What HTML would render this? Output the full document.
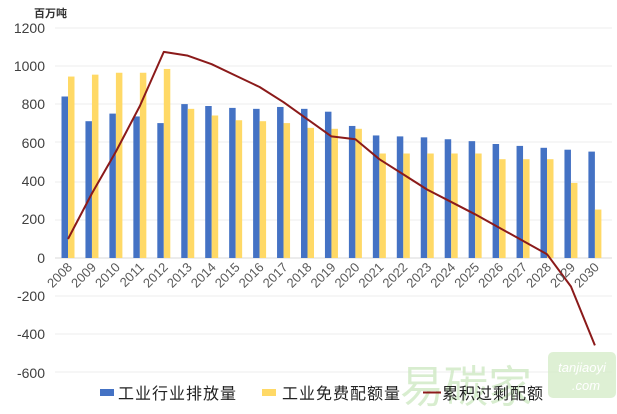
<!DOCTYPE html>
<html><head><meta charset="utf-8"><style>
html,body{margin:0;padding:0;background:#fff;}
svg{display:block;font-family:"Liberation Sans","Noto Sans CJK SC",sans-serif;}
</style></head><body>
<svg width="617" height="414" viewBox="0 0 617 414" xmlns="http://www.w3.org/2000/svg">
<rect width="617" height="414" fill="#fff"/>
<g stroke="#ececec" stroke-width="1">
<line x1="55" x2="612" y1="28" y2="28"/>
<line x1="55" x2="612" y1="66" y2="66"/>
<line x1="55" x2="612" y1="104" y2="104"/>
<line x1="55" x2="612" y1="142" y2="142"/>
<line x1="55" x2="612" y1="182" y2="182"/>
<line x1="55" x2="612" y1="220" y2="220"/>
<line x1="55" x2="612" y1="296" y2="296"/>
<line x1="55" x2="612" y1="334" y2="334"/>
<line x1="55" x2="612" y1="372" y2="372"/>
</g>
<line x1="55" x2="612" y1="258" y2="258" stroke="#d9d9d9"/>
<g font-size="14" fill="#404040" text-anchor="end">
<text x="45" y="33">1200</text><text x="45" y="71">1000</text><text x="45" y="109">800</text>
<text x="45" y="148">600</text><text x="45" y="186">400</text><text x="45" y="224">200</text>
<text x="45" y="263">0</text><text x="45" y="301">-200</text><text x="45" y="339">-400</text>
<text x="45" y="378">-600</text>
</g>
<text x="34" y="17" font-size="11" font-weight="bold" fill="#333">百万吨</text>
<g fill="#4472c4">
<rect x="61.5" y="96.5" width="6.5" height="161.5"/>
<rect x="85.45" y="121.2" width="6.5" height="136.8"/>
<rect x="109.4" y="113.6" width="6.5" height="144.4"/>
<rect x="133.35" y="116.45" width="6.5" height="141.55"/>
<rect x="157.3" y="123.1" width="6.5" height="134.9"/>
<rect x="181.25" y="104.1" width="6.5" height="153.9"/>
<rect x="205.2" y="106" width="6.5" height="152"/>
<rect x="229.15" y="107.9" width="6.5" height="150.1"/>
<rect x="253.1" y="108.85" width="6.5" height="149.15"/>
<rect x="277.05" y="106.95" width="6.5" height="151.05"/>
<rect x="301" y="108.85" width="6.5" height="149.15"/>
<rect x="324.95" y="111.7" width="6.5" height="146.3"/>
<rect x="348.9" y="125.95" width="6.5" height="132.05"/>
<rect x="372.85" y="135.45" width="6.5" height="122.55"/>
<rect x="396.8" y="136.4" width="6.5" height="121.6"/>
<rect x="420.75" y="137.35" width="6.5" height="120.65"/>
<rect x="444.7" y="139.25" width="6.5" height="118.75"/>
<rect x="468.65" y="141.15" width="6.5" height="116.85"/>
<rect x="492.6" y="144" width="6.5" height="114"/>
<rect x="516.55" y="145.9" width="6.5" height="112.1"/>
<rect x="540.5" y="147.8" width="6.5" height="110.2"/>
<rect x="564.45" y="149.7" width="6.5" height="108.3"/>
<rect x="588.4" y="151.6" width="6.5" height="106.4"/>
</g>
<g fill="#ffd966">
<rect x="68" y="76.55" width="6.5" height="181.45"/>
<rect x="91.95" y="74.65" width="6.5" height="183.35"/>
<rect x="115.9" y="72.75" width="6.5" height="185.25"/>
<rect x="139.85" y="72.75" width="6.5" height="185.25"/>
<rect x="163.8" y="68.95" width="6.5" height="189.05"/>
<rect x="187.75" y="108.85" width="6.5" height="149.15"/>
<rect x="211.7" y="115.5" width="6.5" height="142.5"/>
<rect x="235.65" y="120.25" width="6.5" height="137.75"/>
<rect x="259.6" y="121.2" width="6.5" height="136.8"/>
<rect x="283.55" y="123.1" width="6.5" height="134.9"/>
<rect x="307.5" y="127.85" width="6.5" height="130.15"/>
<rect x="331.45" y="128.8" width="6.5" height="129.2"/>
<rect x="355.4" y="128.8" width="6.5" height="129.2"/>
<rect x="379.35" y="153.5" width="6.5" height="104.5"/>
<rect x="403.3" y="153.5" width="6.5" height="104.5"/>
<rect x="427.25" y="153.5" width="6.5" height="104.5"/>
<rect x="451.2" y="153.5" width="6.5" height="104.5"/>
<rect x="475.15" y="153.5" width="6.5" height="104.5"/>
<rect x="499.1" y="159.2" width="6.5" height="98.8"/>
<rect x="523.05" y="159.2" width="6.5" height="98.8"/>
<rect x="547" y="159.2" width="6.5" height="98.8"/>
<rect x="570.95" y="182.95" width="6.5" height="75.05"/>
<rect x="594.9" y="209.55" width="6.5" height="48.45"/>
</g>
<polyline fill="none" stroke="#8b1a1a" stroke-width="2" stroke-linejoin="round" points="68,239 91.95,193.4 115.9,151.6 139.85,106 163.8,51.85 187.75,55.65 211.7,64.2 235.65,75.6 259.6,87 283.55,102.2 307.5,119.3 331.45,136.4 355.4,139.25 379.35,159.2 403.3,174.4 427.25,189.6 451.2,201.95 475.15,214.3 499.1,227.6 523.05,240.9 547,254.2 570.95,286.5 594.9,345.4"/>
<g font-size="13" fill="#595959" text-anchor="end">
<text transform="translate(73,268) rotate(-45)">2008</text>
<text transform="translate(96.95,268) rotate(-45)">2009</text>
<text transform="translate(120.9,268) rotate(-45)">2010</text>
<text transform="translate(144.85,268) rotate(-45)">2011</text>
<text transform="translate(168.8,268) rotate(-45)">2012</text>
<text transform="translate(192.75,268) rotate(-45)">2013</text>
<text transform="translate(216.7,268) rotate(-45)">2014</text>
<text transform="translate(240.65,268) rotate(-45)">2015</text>
<text transform="translate(264.6,268) rotate(-45)">2016</text>
<text transform="translate(288.55,268) rotate(-45)">2017</text>
<text transform="translate(312.5,268) rotate(-45)">2018</text>
<text transform="translate(336.45,268) rotate(-45)">2019</text>
<text transform="translate(360.4,268) rotate(-45)">2020</text>
<text transform="translate(384.35,268) rotate(-45)">2021</text>
<text transform="translate(408.3,268) rotate(-45)">2022</text>
<text transform="translate(432.25,268) rotate(-45)">2023</text>
<text transform="translate(456.2,268) rotate(-45)">2024</text>
<text transform="translate(480.15,268) rotate(-45)">2025</text>
<text transform="translate(504.1,268) rotate(-45)">2026</text>
<text transform="translate(528.05,268) rotate(-45)">2027</text>
<text transform="translate(552,268) rotate(-45)">2028</text>
<text transform="translate(575.95,268) rotate(-45)">2029</text>
<text transform="translate(599.9,268) rotate(-45)">2030</text>
</g>
<text x="400" y="402" font-size="44" fill="#cfe9c4" opacity="0.8" font-family="Noto Sans CJK SC,sans-serif">易碳家</text>
<rect x="548" y="352" width="68" height="46" rx="5" fill="#d6ecc9" opacity="0.8"/>
<text x="582" y="372" font-size="13" fill="#fff" text-anchor="middle" font-style="italic">tanjiaoyi</text>
<text x="586" y="390" font-size="13" fill="#fff" text-anchor="middle" font-style="italic">.com</text>
<rect x="100" y="389" width="14" height="7" fill="#4472c4"/>
<text x="118" y="399" font-size="16" fill="#222" letter-spacing="1">工业行业排放量</text>
<rect x="262" y="389" width="14" height="7" fill="#ffd966"/>
<text x="282" y="399" font-size="16" fill="#222" letter-spacing="1">工业免费配额量</text>
<line x1="423" x2="441" y1="392.5" y2="392.5" stroke="#8b1a1a" stroke-width="2"/>
<text x="442" y="399" font-size="16" fill="#222" letter-spacing="1">累积过剩配额</text>
</svg>
</body></html>
